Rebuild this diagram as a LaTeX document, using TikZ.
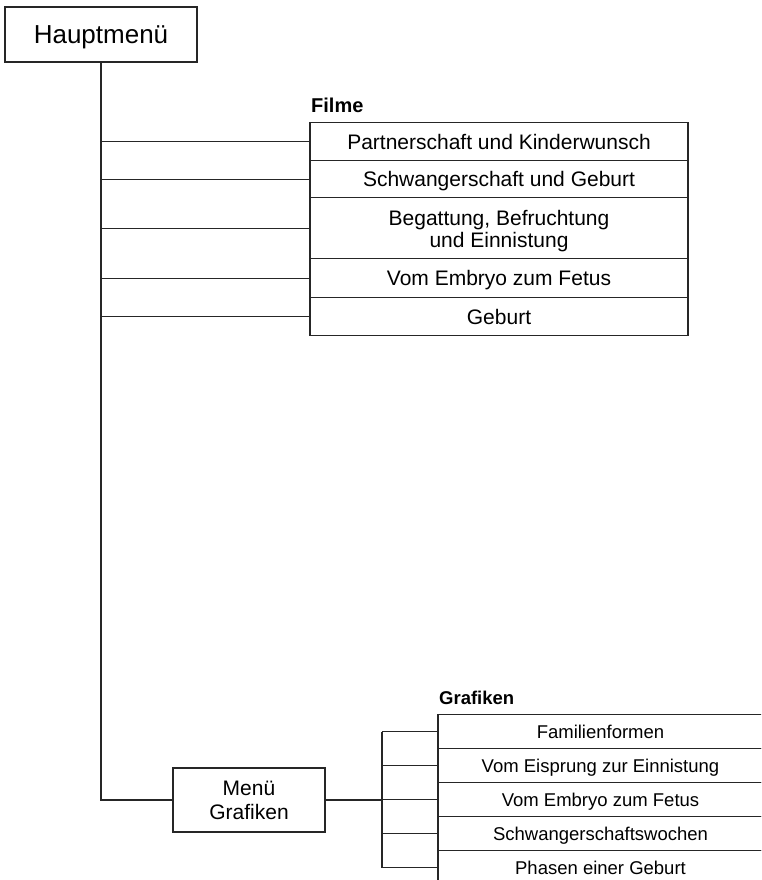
\documentclass[tikz,border=0pt]{standalone}
\usepackage{fontspec}
\setmainfont{Liberation Sans}
\usepackage{tikz}

\tikzset{
  menubox/.style={draw=black!85, line width=1.6pt, align=center, inner sep=0pt},
  oneline/.style={text height=19.5pt, text depth=4.5pt},
  twoline/.style={},
  filmrow/.style={draw=black!85, line width=1.4pt, align=center, inner sep=0pt,
    anchor=north, minimum width=378pt, font=\fontsize{21}{22}\selectfont},
  grafrow/.style={draw=black!85, line width=1.4pt, align=center, inner sep=0pt,
    anchor=north, minimum width=325pt, minimum height=34pt,
    text height=17.2pt, text depth=4pt, font=\fontsize{18.5}{22}\selectfont},
  branch/.style={draw=black!85, line width=1.4pt},
  heading/.style={anchor=west, inner sep=0pt, font=\bfseries}
}

\begin{document}
\begin{tikzpicture}[x=1pt,y=-1pt]
  \clip (0,0) rectangle (761,880);
  % Hauptmenue
  \node[menubox, minimum width=192pt, minimum height=55pt,
    text height=24pt, text depth=5.4pt,
    font=\fontsize{26}{30}\selectfont] (haupt) at (101,34.5) {Hauptmenü};
  % Filme
  \node[heading, font=\bfseries\fontsize{20}{24}\selectfont] (filme) at (311,105) {Filme};
  \foreach \n/\y/\h/\sty/\txt in {1/122/38/oneline/{Partnerschaft und Kinderwunsch},
      2/160/37/oneline/{Schwangerschaft und Geburt},
      3/197/61/twoline/{\rule{0pt}{20pt}Begattung, Befruchtung\\und Einnistung},
      4/258/39/oneline/{Vom Embryo zum Fetus},
      5/297/38/oneline/{Geburt}}
    {\node[filmrow, \sty, minimum height=\h pt] (f\n) at (499,\y) {\txt};
     \draw[branch] (haupt.south |- f\n.west) -- (f\n.west);}
  % Menue Grafiken
  \node[menubox, line width=1.4pt, minimum width=152pt, minimum height=64pt,
    font=\fontsize{21}{24}\selectfont] (mg) at (249,800) {Menü\\Grafiken};
  \draw[branch, line width=1.7pt] (haupt.south) -- (haupt.south |- mg.west) -- (mg.west);
  % Grafiken
  \node[heading, font=\bfseries\fontsize{18.5}{22}\selectfont] (grafiken) at (439,698) {Grafiken};
  \foreach \n/\y/\txt in {1/714/Familienformen, 2/748/Vom Eisprung zur Einnistung,
      3/782/Vom Embryo zum Fetus, 4/816/Schwangerschaftswochen,
      5/850/Phasen einer Geburt}
    {\node[grafrow] (g\n) at (600.5,\y) {\txt};}
  \coordinate (bus) at (382,800);
  \draw[branch, line width=1.7pt] (mg.east) -- (bus);
  \draw[branch] (bus |- g1.west) -- (bus |- g5.west);
  \foreach \n in {1,...,5}
    {\draw[branch] (bus |- g\n.west) -- (g\n.west);}
\end{tikzpicture}
\end{document}
